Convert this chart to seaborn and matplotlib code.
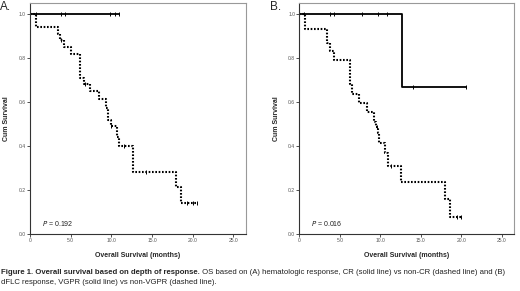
import matplotlib
matplotlib.use("Agg")
import matplotlib.pyplot as plt
import seaborn as sns
import pandas as pd

sns.set_theme(style="white")
plt.rcParams["font.family"] = ["Liberation Sans", "DejaVu Sans"]

# Panel A: hematologic response, CR (solid) vs non-CR (dashed)
a_solid_times = [10.9]
a_solid_surv = [1.0]
a_solid_cens_t = [0.75, 3.8, 4.3, 9.8, 10.4, 10.9]
a_solid_cens_s = [1.0, 1.0, 1.0, 1.0, 1.0, 1.0]

a_dash_times = [0.7, 3.5, 3.7, 4.2, 5.0, 6.2, 6.6, 7.4, 8.5, 9.4, 9.6, 9.9,
                10.7, 10.9, 12.7, 18.0, 18.6, 20.5]
a_dash_surv = [0.943, 0.91, 0.88, 0.85, 0.82, 0.71, 0.68, 0.65, 0.615, 0.575,
               0.52, 0.49, 0.44, 0.40, 0.285, 0.215, 0.144, 0.144]
a_dash_cens_t = [3.8, 6.8, 9.9, 11.5, 14.2, 19.3, 20.0, 20.5]
a_dash_cens_s = [0.88, 0.68, 0.49, 0.40, 0.285, 0.144, 0.144, 0.144]

# Panel B: dFLC response, VGPR (solid) vs non-VGPR (dashed)
b_solid_times = [12.7, 20.6]
b_solid_surv = [0.668, 0.668]
b_solid_cens_t = [0.6, 3.8, 4.3, 7.8, 9.7, 10.8, 14.0, 20.6]
b_solid_cens_s = [1.0, 1.0, 1.0, 1.0, 1.0, 1.0, 0.668, 0.668]

b_dash_times = [0.7, 3.4, 3.8, 4.3, 6.2, 6.5, 7.4, 8.4, 9.2, 9.5, 9.7, 9.8,
                10.6, 10.9, 12.6, 18.0, 18.6, 20.0]
b_dash_surv = [0.932, 0.868, 0.83, 0.79, 0.68, 0.636, 0.595, 0.557, 0.512,
               0.489, 0.459, 0.416, 0.368, 0.312, 0.236, 0.16, 0.08, 0.08]
b_dash_cens_t = [9.6, 11.3, 19.5, 20.0]
b_dash_cens_s = [0.489, 0.312, 0.08, 0.08]

x_ticks = [0, 5, 10, 15, 20, 25]
x_tick_labels = ["0", "5.0", "10.0", "15.0", "20.0", "25.0"]
y_ticks = [0.0, 0.2, 0.4, 0.6, 0.8, 1.0]
y_tick_labels = ["0.0", "0.2", "0.4", "0.6", "0.8", "1.0"]


def km_frame(times, surv):
    return pd.DataFrame({"t": [0.0] + list(times), "s": [1.0] + list(surv)})


def draw_panel(ax, solid, dash, p_text):
    st, ss, sct, scs = solid
    dt, ds, dct, dcs = dash
    sns.lineplot(data=km_frame(dt, ds), x="t", y="s", ax=ax, color="black",
                 drawstyle="steps-post", linewidth=1.5,
                 linestyle=(0, (0.8, 0.8)), estimator=None)
    sns.lineplot(data=km_frame(st, ss), x="t", y="s", ax=ax, color="black",
                 drawstyle="steps-post", linewidth=1.3, estimator=None)
    ax.plot(sct, scs, linestyle="none", marker="|", color="black",
            markersize=3.5, markeredgewidth=0.7)
    ax.plot(dct, dcs, linestyle="none", marker="|", color="black",
            markersize=3.5, markeredgewidth=0.7)

    ax.set_xlim(0, 26.55)
    ax.set_ylim(0, 1.05)
    ax.set_xticks(x_ticks)
    ax.set_xticklabels(x_tick_labels)
    ax.set_yticks(y_ticks)
    ax.set_yticklabels(y_tick_labels)
    ax.tick_params(axis="both", labelsize=3.6, labelcolor="#555555",
                   length=2, width=0.6, pad=1, color="#333333",
                   bottom=True, left=True, top=False, right=False)
    for side in ["left", "bottom"]:
        ax.spines[side].set_color("#333333")
        ax.spines[side].set_linewidth(0.8)
    for side in ["top", "right"]:
        ax.spines[side].set_color("#999999")
        ax.spines[side].set_linewidth(0.8)
    ax.set_xlabel("Overall Survival (months)", fontsize=5, fontweight="bold",
                  labelpad=6)
    ax.set_ylabel("Cum Survival", fontsize=5, fontweight="bold", labelpad=6)
    ax.text(1.5, 0.05, "$P$ = " + p_text, fontsize=5, color="#222222",
            va="center")


fig = plt.figure(figsize=(5.2, 2.91), dpi=100)
ax_a = fig.add_axes([0.0577, 0.1948, 0.4154, 0.795])
ax_b = fig.add_axes([0.5756, 0.1948, 0.4135, 0.795])

draw_panel(ax_a, (a_solid_times, a_solid_surv, a_solid_cens_t, a_solid_cens_s),
           (a_dash_times, a_dash_surv, a_dash_cens_t, a_dash_cens_s), "0.192")
draw_panel(ax_b, (b_solid_times, b_solid_surv, b_solid_cens_t, b_solid_cens_s),
           (b_dash_times, b_dash_surv, b_dash_cens_t, b_dash_cens_s), "0.016")

fig.text(0.0, 0.995, "A.", fontsize=8.5, va="top", ha="left")
fig.text(0.519, 0.995, "B.", fontsize=8.5, va="top", ha="left")

cap_size = 5.6
bold = fig.text(0.002, 0.062,
                "Figure 1. Overall survival based on depth of response.",
                fontsize=cap_size, fontweight="bold", va="center", ha="left")
fig.text(0.002, 0.030,
         "dFLC response, VGPR (solid line) vs non-VGPR (dashed line).",
         fontsize=cap_size, va="center", ha="left", color="#222222")

fig.canvas.draw()
x_end = bold.get_window_extent().x1 / fig.bbox.width
fig.text(x_end, 0.062,
         " OS based on (A) hematologic response, CR (solid line) vs "
         "non-CR (dashed line) and (B)",
         fontsize=cap_size, va="center", ha="left", color="#222222")

fig.savefig("out.png", dpi=100)
